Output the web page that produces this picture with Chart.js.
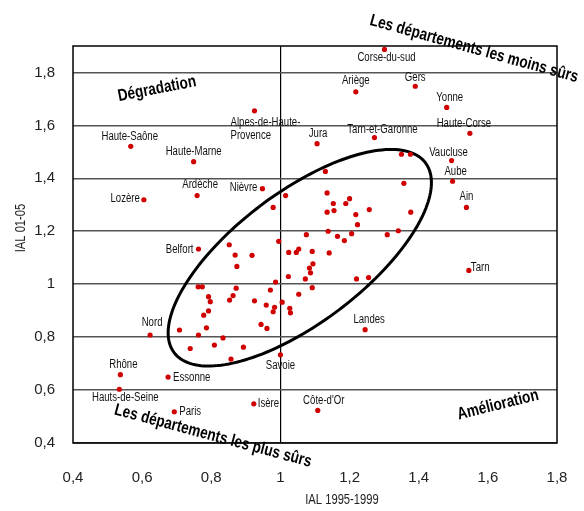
<!DOCTYPE html>
<html lang="fr">
<head>
<meta charset="utf-8">
<title>IAL 1995-1999 / IAL 01-05</title>
<script src="https://cdn.jsdelivr.net/npm/chart.js@4.4.1/dist/chart.umd.min.js"></script>
<style>
  html, body { margin: 0; padding: 0; background: #fff; }
</style>
</head>
<body>
<canvas id="ialChart" width="584" height="511"></canvas>
<script>
// Départements nommés
const depts = ['Corse-du-sud', 'Ariège', 'Gers', 'Yonne', 'Haute-Corse', 'Alpes-de-Haute-Provence',
  'Haute-Saône', 'Haute-Marne', 'Jura', 'Tarn-et-Garonne', 'Vaucluse', 'Aube', 'Ain', 'Lozère',
  'Ardèche', 'Nièvre', 'Belfort', 'Tarn', 'Nord', 'Landes', 'Savoie', 'Rhône', 'Essonne',
  'Hauts-de-Seine', 'Paris', 'Isère', "Côte-d'Or"];
const deptX = [1.301, 1.218, 1.390, 1.481, 1.548, 0.925,
  0.567, 0.749, 1.106, 1.272, 1.495, 1.498, 1.538, 0.605,
  0.759, 0.948, 0.763, 1.545, 0.623, 1.245, 1.000, 0.537, 0.675,
  0.534, 0.693, 0.923, 1.108];
const deptY = [1.887, 1.727, 1.748, 1.668, 1.570, 1.655,
  1.521, 1.463, 1.531, 1.554, 1.467, 1.389, 1.290, 1.319,
  1.335, 1.361, 1.133, 1.052, 0.808, 0.828, 0.733, 0.658, 0.649,
  0.603, 0.518, 0.548, 0.523];

// Autres départements (sans nom)
const otherX = [1.350, 1.376, 1.130, 1.357, 1.015, 0.979, 1.135, 1.153, 1.189, 1.200,
  1.135, 1.155, 1.218, 1.257, 1.377, 1.223, 1.075, 1.138, 1.165, 1.185,
  1.206, 1.309, 1.341, 1.024, 1.046, 1.053, 1.092, 1.141, 1.094, 1.084,
  1.087, 1.023, 1.072, 1.220, 1.255, 1.092, 1.053, 1.005, 1.027, 1.029,
  0.995, 0.852, 0.869, 0.918, 0.874, 0.762, 0.774, 0.872, 0.986, 0.971,
  0.792, 0.797, 0.863, 0.853, 0.925, 0.959, 0.983, 0.979, 0.792, 0.778,
  0.944, 0.961, 0.786, 0.708, 0.763, 0.834, 0.809, 0.739, 0.893, 0.857];
const otherY = [1.491, 1.491, 1.426, 1.381, 1.335, 1.290, 1.345, 1.305, 1.305, 1.323,
  1.272, 1.278, 1.263, 1.282, 1.272, 1.225, 1.187, 1.200, 1.181, 1.165,
  1.191, 1.187, 1.202, 1.120, 1.120, 1.133, 1.124, 1.118, 1.077, 1.061,
  1.043, 1.029, 1.020, 1.020, 1.025, 0.987, 0.962, 0.932, 0.909, 0.892,
  1.162, 1.149, 1.110, 1.109, 1.067, 0.990, 0.990, 0.985, 1.008, 0.978,
  0.953, 0.934, 0.957, 0.940, 0.937, 0.921, 0.913, 0.896, 0.899, 0.883,
  0.848, 0.833, 0.835, 0.827, 0.808, 0.797, 0.770, 0.757, 0.762, 0.717];

const xTicks = [0.4, 0.6, 0.8, 1, 1.2, 1.4, 1.6, 1.8];
const xTickLabels = ['0,4', '0,6', '0,8', '1', '1,2', '1,4', '1,6', '1,8'];
const yTicks = [0.4, 0.6, 0.8, 1, 1.2, 1.4, 1.6, 1.8];
const yTickLabels = ['0,4', '0,6', '0,8', '1', '1,2', '1,4', '1,6', '1,8'];

// ellipse autour du nuage central (centre + deux demi-axes, en unités IAL)
const ellipseCentre = [1.056, 1.100];
const ellipseAxis1 = [0.3635, 0.3586];
const ellipseAxis2 = [-0.1134, 0.1970];

// placement des noms : décalage x, décalage y, alignement, coupure éventuelle
const labelPos = {
  'Corse-du-sud': [2, 8, 'center'],
  'Ariège': [0, -11, 'center'],
  'Gers': [0, -9, 'center'],
  'Yonne': [3, -10, 'center'],
  'Haute-Corse': [-6, -10, 'center'],
  'Alpes-de-Haute-Provence': [-24, 12, 'left', 15],
  'Haute-Saône': [-1, -10, 'center'],
  'Haute-Marne': [0, -10, 'center'],
  'Jura': [1, -10, 'center'],
  'Tarn-et-Garonne': [8, -8, 'center'],
  'Vaucluse': [-3, -8, 'center'],
  'Aube': [3, -10, 'center'],
  'Ain': [0, -11, 'center'],
  'Lozère': [-4, -1, 'right'],
  'Ardèche': [3, -11, 'center'],
  'Nièvre': [-5, -1, 'right'],
  'Belfort': [-5, 1, 'right'],
  'Tarn': [2, -3, 'left'],
  'Nord': [2, -12, 'center'],
  'Landes': [4, -10, 'center'],
  'Savoie': [0, 11, 'center'],
  'Rhône': [3, -10, 'center'],
  'Essonne': [5, 1, 'left'],
  'Hauts-de-Seine': [6, 8, 'center'],
  'Paris': [5, 0, 'left'],
  'Isère': [4, 0, 'left'],
  "Côte-d'Or": [6, -10, 'center']
};

const captions = [
  { text: 'Dégradation', x: 157, y: 89, angle: -11 },
  { text: 'Les départements les moins sûrs', x: 474, y: 49, angle: 15.5 },
  { text: 'Amélioration', x: 498, y: 405, angle: -14 },
  { text: 'Les départements les plus sûrs', x: 213, y: 436, angle: 15 }
];

const PLAIN = '"Liberation Sans", Arial, sans-serif';
const SQUEEZE = 0.8;   // texte resserré façon "narrow"

// écrit un texte comprimé horizontalement
function narrowText(ctx, text, x, y, align) {
  ctx.save();
  ctx.translate(x, y);
  ctx.scale(SQUEEZE, 1);
  ctx.textAlign = align;
  ctx.fillText(text, 0, 0);
  ctx.restore();
}

// cadre noir autour de la zone de tracé
const framePlugin = {
  id: 'frame',
  afterDatasetsDraw(chart) {
    const { ctx, chartArea: a } = chart;
    ctx.save();
    ctx.strokeStyle = '#000';
    ctx.lineWidth = 1.5;
    ctx.strokeRect(a.left, a.top, a.right - a.left, a.bottom - a.top);
    ctx.restore();
  }
};

const ellipsePlugin = {
  id: 'ellipse',
  beforeDatasetsDraw(chart) {
    const { ctx, scales: { x, y } } = chart;
    ctx.save();
    ctx.beginPath();
    for (let i = 0; i <= 180; i++) {
      const t = i / 180 * Math.PI * 2;
      const vx = ellipseCentre[0] + Math.cos(t) * ellipseAxis1[0] + Math.sin(t) * ellipseAxis2[0];
      const vy = ellipseCentre[1] + Math.cos(t) * ellipseAxis1[1] + Math.sin(t) * ellipseAxis2[1];
      const px = x.getPixelForValue(vx), py = y.getPixelForValue(vy);
      if (i === 0) ctx.moveTo(px, py); else ctx.lineTo(px, py);
    }
    ctx.closePath();
    ctx.strokeStyle = '#000';
    ctx.lineWidth = 3;
    ctx.stroke();
    ctx.restore();
  }
};

const namesPlugin = {
  id: 'names',
  afterDatasetsDraw(chart) {
    const { ctx } = chart;
    const meta = chart.getDatasetMeta(0);
    ctx.save();
    ctx.font = '12px ' + PLAIN;
    ctx.fillStyle = '#111';
    ctx.textBaseline = 'middle';
    meta.data.forEach((pt, i) => {
      const name = depts[i];
      const [dx, dy, align, cut] = labelPos[name] || [0, -10, 'center'];
      const lines = cut ? [name.slice(0, cut), name.slice(cut)] : [name];
      lines.forEach((line, k) => narrowText(ctx, line, pt.x + dx, pt.y + dy + k * 13, align));
    });
    ctx.restore();
  }
};

const textPlugin = {
  id: 'texts',
  afterDraw(chart) {
    const { ctx } = chart;
    ctx.save();
    ctx.fillStyle = '#000';
    ctx.textBaseline = 'middle';
    ctx.font = 'bold 17px ' + PLAIN;
    captions.forEach(c => {
      ctx.save();
      ctx.translate(c.x, c.y);
      ctx.rotate(c.angle * Math.PI / 180);
      narrowText(ctx, c.text, 0, 0, 'center');
      ctx.restore();
    });
    // titres des axes
    ctx.fillStyle = '#222';
    ctx.font = '14px ' + PLAIN;
    narrowText(ctx, 'IAL 1995-1999', 342, 500, 'center');
    ctx.translate(21, 228);
    ctx.rotate(-Math.PI / 2);
    narrowText(ctx, 'IAL 01-05', 0, 0, 'center');
    ctx.restore();
  }
};

new Chart(document.getElementById('ialChart'), {
  type: 'scatter',
  data: {
    datasets: [
      {
        label: 'Départements nommés',
        data: depts.map((n, i) => ({ x: deptX[i], y: deptY[i] })),
        backgroundColor: '#d00000',
        borderWidth: 0,
        pointRadius: 2.6
      },
      {
        label: 'Autres départements',
        data: otherX.map((v, i) => ({ x: v, y: otherY[i] })),
        backgroundColor: '#d00000',
        borderWidth: 0,
        pointRadius: 2.6
      }
    ]
  },
  options: {
    responsive: false,
    animation: false,
    devicePixelRatio: 1,
    layout: { padding: { top: 46, right: 27, left: 0, bottom: 0 } },
    plugins: { legend: { display: false }, tooltip: { enabled: false } },
    scales: {
      x: {
        type: 'linear',
        min: 0.4,
        max: 1.8,
        afterBuildTicks: s => { s.ticks = xTicks.map(v => ({ value: v })); },
        afterFit: s => { s.height = 68; s.paddingLeft = 0; s.paddingRight = 0; },
        ticks: {
          callback: (v, i) => xTickLabels[i],
          font: { family: PLAIN, size: 15 },
          color: '#222',
          padding: 26,
          maxRotation: 0,
          autoSkip: false
        },
        grid: {
          drawTicks: false,
          color: c => (c.tick && c.tick.value === 1 ? '#000' : 'rgba(0,0,0,0)'),
          lineWidth: 1.2
        },
        border: { display: false }
      },
      y: {
        type: 'linear',
        min: 0.4,
        max: 1.9,
        afterBuildTicks: s => { s.ticks = yTicks.map(v => ({ value: v })); },
        afterFit: s => { s.width = 73; s.paddingTop = 0; s.paddingBottom = 0; },
        ticks: {
          callback: (v, i) => yTickLabels[i],
          font: { family: PLAIN, size: 15 },
          color: '#222',
          padding: 18,
          autoSkip: false
        },
        grid: { drawTicks: false, color: '#555', lineWidth: 1.6 },
        border: { display: false }
      }
    }
  },
  plugins: [ellipsePlugin, framePlugin, namesPlugin, textPlugin]
});
</script>
</body>
</html>
